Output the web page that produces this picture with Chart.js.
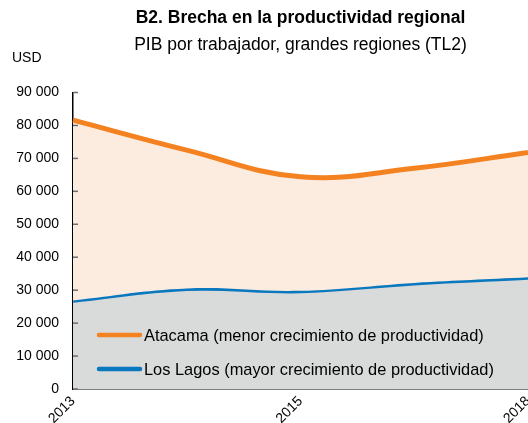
<!DOCTYPE html>
<html>
<head>
<meta charset="utf-8">
<script src="https://cdn.jsdelivr.net/npm/chart.js@4/dist/chart.umd.min.js"></script>
<style>
  body { margin: 0; background: #fff; }
  #chart { display: block; }
</style>
</head>
<body>
<canvas id="chart" width="528" height="423"></canvas>
<script>
const years = ['2013', '2014', '2015', '2017', '2018']
const shownYears = ['2013', '2015', '2018']
const atacama = [81600, 72500, 64400, 67000, 71800]
const losLagos = [26900, 30500, 29800, 32200, 33900]
const yTicks = [0, 10000, 20000, 30000, 40000, 50000, 60000, 70000, 80000, 90000]

const fontFamily = '"Liberation Sans", Arial, sans-serif'
const fmt = v => String(v).replace(/\B(?=(\d{3})+(?!\d))/g, ' ')

// USD label, inward tick marks and the legend inside the plot
const extras = {
  id: 'extras',
  afterDraw(chart) {
    const { ctx, chartArea, scales } = chart
    ctx.save()
    ctx.font = '14px ' + fontFamily
    ctx.fillStyle = '#000'
    ctx.textBaseline = 'middle'
    ctx.fillText('USD', 12, 58)

    ctx.strokeStyle = '#6d6d6d'
    ctx.lineWidth = 1.5
    yTicks.forEach(v => {
      const y = scales.y.getPixelForValue(v)
      ctx.beginPath()
      ctx.moveTo(chartArea.left, y)
      ctx.lineTo(chartArea.left + 5, y)
      ctx.stroke()
    })

    ctx.font = '16.4px ' + fontFamily
    chart.data.datasets.forEach((ds, i) => {
      const y = chartArea.bottom - 54 + i * 34
      ctx.strokeStyle = ds.borderColor
      ctx.lineWidth = 4.5
      ctx.lineCap = 'round'
      ctx.beginPath()
      ctx.moveTo(chartArea.left + 26, y)
      ctx.lineTo(chartArea.left + 67, y)
      ctx.stroke()
      ctx.fillStyle = '#000'
      ctx.fillText(ds.label, chartArea.left + 71, y + 1)
    })
    ctx.restore()
  }
}

new Chart(document.querySelector('#chart').getContext('2d'), {
  type: 'line',
  data: {
    labels: years,
    datasets: [
      {
        label: 'Atacama (menor crecimiento de productividad)',
        data: atacama,
        borderColor: '#f58220',
        backgroundColor: '#fcebdf',
        borderWidth: 5,
        pointRadius: 0,
        tension: 0.4,
        fill: '+1'
      },
      {
        label: 'Los Lagos (mayor crecimiento de productividad)',
        data: losLagos,
        borderColor: '#0a78be',
        backgroundColor: '#d9dada',
        borderWidth: 5,
        pointRadius: 0,
        tension: 0.4,
        fill: 'origin'
      }
    ]
  },
  options: {
    responsive: false,
    animation: false,
    layout: { padding: { left: 0, right: 0, top: 0, bottom: 0 } },
    plugins: {
      legend: { display: false },
      tooltip: { enabled: false },
      title: {
        display: true,
        text: 'B2. Brecha en la productividad regional',
        fullSize: false,
        color: '#000',
        font: { family: fontFamily, size: 17.5, weight: 'bold' },
        padding: { top: 7.5, bottom: 3 }
      },
      subtitle: {
        display: true,
        text: 'PIB por trabajador, grandes regiones (TL2)',
        fullSize: false,
        color: '#000',
        font: { family: fontFamily, size: 17.5 },
        padding: { top: 3, bottom: 37 }
      }
    },
    scales: {
      x: {
        grid: { display: false, drawTicks: false },
        border: { color: '#000', width: 1.5 },
        ticks: {
          color: '#000',
          font: { family: fontFamily, size: 14 },
          minRotation: 45,
          maxRotation: 45,
          autoSkip: false,
          padding: 4,
          callback: (v, i) => shownYears.includes(years[i]) ? years[i] : ''
        },
        afterFit: s => { s.height = 34; s.paddingLeft = 0; s.paddingRight = 0 }
      },
      y: {
        min: 0,
        max: 90000,
        grid: { display: false, drawTicks: false },
        border: { color: '#000', width: 1.5 },
        ticks: {
          stepSize: 10000,
          color: '#000',
          padding: 14,
          font: { family: fontFamily, size: 14 },
          callback: v => fmt(v)
        },
        afterFit: s => { s.width = 73; s.paddingTop = 0; s.paddingBottom = 0 }
      }
    }
  },
  plugins: [extras]
})
</script>
</body>
</html>
